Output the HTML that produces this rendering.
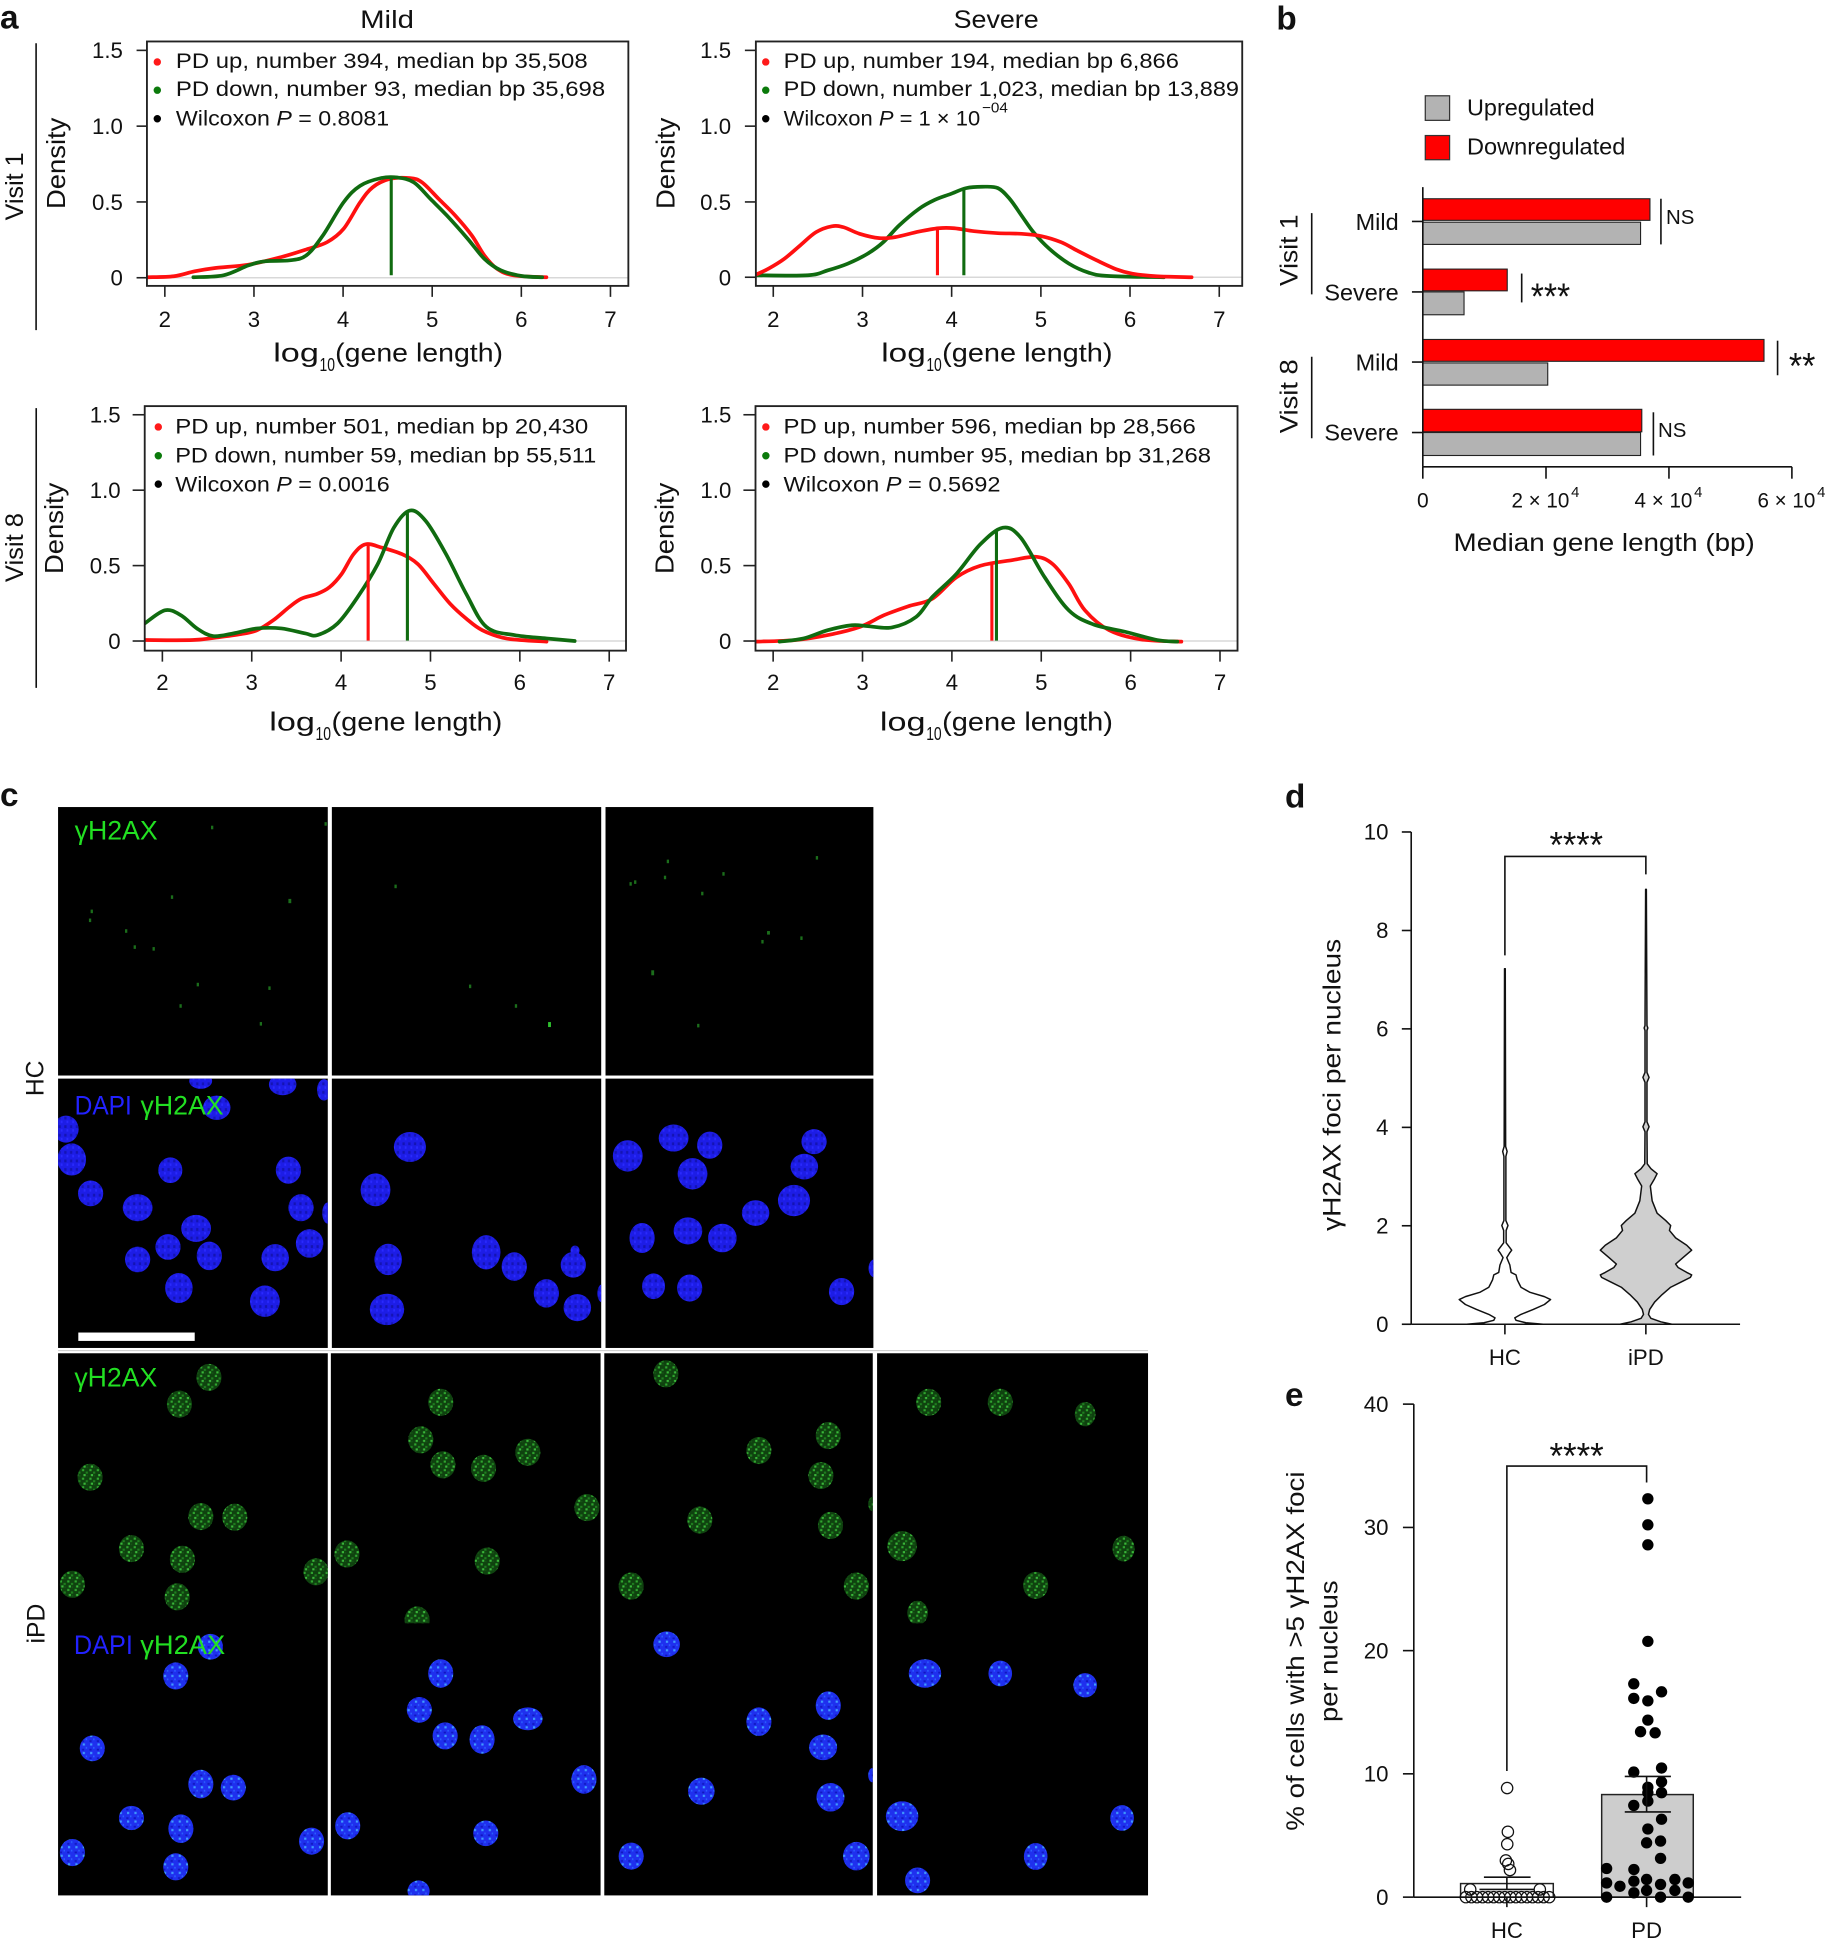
<!DOCTYPE html>
<html><head><meta charset="utf-8">
<style>
html,body{margin:0;padding:0;background:#fff;}
svg{display:block;}
text{font-family:"Liberation Sans",Arial,sans-serif;fill:#111;}
</style></head><body>
<svg xmlns="http://www.w3.org/2000/svg" width="1827" height="1938" viewBox="0 0 1480 1570">
<defs>
 <clipPath id="cTL"><rect x="119" y="33.6" width="390" height="198"/></clipPath>
 <clipPath id="cTR"><rect x="612.3" y="33.6" width="394" height="198"/></clipPath>
 <clipPath id="cBL"><rect x="117.2" y="329" width="389.9" height="198.1"/></clipPath>
 <clipPath id="cBR"><rect x="612" y="329" width="390.5" height="198.1"/></clipPath>
 <clipPath id="h1"><rect x="47" y="873.8" width="218.5" height="218.2"/></clipPath>
 <clipPath id="h2"><rect x="268.8" y="873.8" width="218.2" height="218.2"/></clipPath>
 <clipPath id="h3"><rect x="490.5" y="873.8" width="217" height="218.2"/></clipPath>
 <clipPath id="g1"><rect x="47" y="1096.3" width="218.5" height="218.7"/></clipPath>
 <clipPath id="g2"><rect x="268" y="1096.3" width="218.5" height="218.7"/></clipPath>
 <clipPath id="g3"><rect x="489.5" y="1096.3" width="217.5" height="218.7"/></clipPath>
 <clipPath id="g4"><rect x="710.5" y="1096.3" width="219.5" height="218.7"/></clipPath>
 <clipPath id="b1"><rect x="47" y="1315" width="218.5" height="220.5"/></clipPath>
 <clipPath id="b2"><rect x="268" y="1315" width="218.5" height="220.5"/></clipPath>
 <clipPath id="b3"><rect x="489.5" y="1315" width="217.5" height="220.5"/></clipPath>
 <clipPath id="b4"><rect x="710.5" y="1315" width="219.5" height="220.5"/></clipPath>
 <pattern id="gsp" patternUnits="userSpaceOnUse" width="10" height="24">
  <rect width="10" height="24" fill="#0f420f"/>
  <rect x="1" y="2" width="3" height="6" fill="#2fa52f"/>
  <rect x="6" y="9" width="3" height="6" fill="#1f7f1f"/>
  <rect x="3" y="16" width="3" height="6" fill="#3ab83a"/>
  <rect x="7" y="19" width="2" height="4" fill="#155515"/>
 </pattern>
 <pattern id="bsp" patternUnits="userSpaceOnUse" width="10" height="24">
  <rect width="10" height="24" fill="#1f30ee"/>
  <rect x="2" y="3" width="3" height="6" fill="#3f9cff"/>
  <rect x="6" y="13" width="2" height="5" fill="#2a60ff"/>
  <rect x="1" y="18" width="3" height="5" fill="#1018c0"/>
 </pattern>
 <pattern id="hsp" patternUnits="userSpaceOnUse" width="10" height="24">
  <rect width="10" height="24" fill="#1d1de6"/>
  <rect x="2" y="3" width="4" height="8" fill="#1414b4"/>
  <rect x="6" y="14" width="3" height="7" fill="#2a2aff"/>
 </pattern>
</defs>

<!-- ================= PANEL a ================= -->
<text x="0" y="23" font-size="27" font-weight="bold">a</text>
<text x="291.7" y="22.8" font-size="20" textLength="43.6" lengthAdjust="spacingAndGlyphs">Mild</text>
<text x="772.5" y="22.8" font-size="20" textLength="68.9" lengthAdjust="spacingAndGlyphs">Severe</text>

<text transform="translate(18.4,151) rotate(-90)" font-size="20" text-anchor="middle" textLength="55" lengthAdjust="spacingAndGlyphs">Visit 1</text>
<line x1="29.2" y1="35" x2="29.2" y2="267.4" stroke="#111" stroke-width="1.3"/>
<text transform="translate(18.4,443.6) rotate(-90)" font-size="20" text-anchor="middle" textLength="56" lengthAdjust="spacingAndGlyphs">Visit 8</text>
<line x1="29.3" y1="330.6" x2="29.3" y2="557.3" stroke="#111" stroke-width="1.3"/>

<text transform="translate(52.5,132.3) rotate(-90)" font-size="21" text-anchor="middle" textLength="74" lengthAdjust="spacingAndGlyphs">Density</text>
<text transform="translate(546.3,132.3) rotate(-90)" font-size="21" text-anchor="middle" textLength="74" lengthAdjust="spacingAndGlyphs">Density</text>
<text transform="translate(51,428) rotate(-90)" font-size="21" text-anchor="middle" textLength="74" lengthAdjust="spacingAndGlyphs">Density</text>
<text transform="translate(545.5,428) rotate(-90)" font-size="21" text-anchor="middle" textLength="74" lengthAdjust="spacingAndGlyphs">Density</text>

<!-- TL -->
<line x1="119" y1="225" x2="509" y2="225" stroke="#d8d8d8" stroke-width="1.2"/>
<g stroke="#222" stroke-width="1.3">
 <line x1="110.6" y1="40.8" x2="119" y2="40.8"/><line x1="110.6" y1="102.2" x2="119" y2="102.2"/>
 <line x1="110.6" y1="163.6" x2="119" y2="163.6"/><line x1="110.6" y1="225" x2="119" y2="225"/>
 <line x1="133.5" y1="231.6" x2="133.5" y2="240.5"/><line x1="205.7" y1="231.6" x2="205.7" y2="240.5"/>
 <line x1="277.9" y1="231.6" x2="277.9" y2="240.5"/><line x1="350.1" y1="231.6" x2="350.1" y2="240.5"/>
 <line x1="422.3" y1="231.6" x2="422.3" y2="240.5"/><line x1="494.5" y1="231.6" x2="494.5" y2="240.5"/>
</g>
<g font-size="18" text-anchor="end">
 <text x="99.5" y="47.2">1.5</text><text x="99.5" y="108.6">1.0</text><text x="99.5" y="170">0.5</text><text x="99.5" y="231.4">0</text>
</g>
<g font-size="18" text-anchor="middle">
 <text x="133.5" y="265">2</text><text x="205.7" y="265">3</text><text x="277.9" y="265">4</text>
 <text x="350.1" y="265">5</text><text x="422.3" y="265">6</text><text x="494.5" y="265">7</text>
</g>
<g clip-path="url(#cTL)" fill="none" stroke-linejoin="round" stroke-linecap="round">
 <polyline class="sm" stroke="#ff1010" stroke-width="3" fill="none" points="119.7,224.6 140.8,223.8 157.6,219.8 174.4,217.1 201.2,214.4 228,208.2 248.1,202.1 264.9,196.2 278.3,185.4 291.7,163.9 301.8,151.8 315.2,145.1 332,144.3 342,147.8 355.4,161.2 368.8,174.7 382.2,190.8 392.3,206.9 402.4,217.6 415.8,223 442.6,224.6"/>
 <polyline class="sm" stroke="#106b10" stroke-width="3" fill="none" points="156.6,224.6 181,223 201.2,215 214.6,211.7 234.7,210.9 248.1,206.9 261.5,190.8 278.3,163.9 291.7,150.5 308.5,144.3 321.9,143.8 335.3,147.8 348.7,161.2 362.1,174.7 378.9,193.5 392.3,209.6 405.7,219 422.5,223.6 439.2,224.6"/>
 <line x1="316.9" y1="223" x2="316.9" y2="144" stroke="#106b10" stroke-width="2.5" stroke-linecap="butt"/>
</g>
<rect x="119" y="33.6" width="390" height="198" fill="none" stroke="#222" stroke-width="1.5"/>
<circle cx="127.4" cy="50.2" r="3" fill="#ff1a1a"/><circle cx="127.4" cy="73.1" r="3" fill="#0b7a0b"/><circle cx="127.4" cy="96.2" r="3" fill="#000"/>
<text x="142.5" y="55.1" font-size="17" textLength="333.5" lengthAdjust="spacingAndGlyphs">PD up, number 394, median bp 35,508</text>
<text x="142.5" y="77.9" font-size="17" textLength="347.7" lengthAdjust="spacingAndGlyphs">PD down, number 93, median bp 35,698</text>
<text x="142.5" y="101.6" font-size="17" textLength="172.7" lengthAdjust="spacingAndGlyphs">Wilcoxon <tspan font-style="italic">P</tspan> = 0.8081</text>
<text x="221.3" y="293" font-size="21" textLength="37" lengthAdjust="spacingAndGlyphs">log</text>
<text x="258.8" y="300.5" font-size="15" textLength="12.5" lengthAdjust="spacingAndGlyphs">10</text>
<text x="271.5" y="293" font-size="21" textLength="136" lengthAdjust="spacingAndGlyphs">(gene length)</text>

<!-- TR -->
<line x1="612.3" y1="224.6" x2="1006.3" y2="224.6" stroke="#d8d8d8" stroke-width="1.2"/>
<g stroke="#222" stroke-width="1.3">
 <line x1="603.4" y1="40.8" x2="612.3" y2="40.8"/><line x1="603.4" y1="102.2" x2="612.3" y2="102.2"/>
 <line x1="603.4" y1="163.6" x2="612.3" y2="163.6"/><line x1="603.4" y1="224.6" x2="612.3" y2="224.6"/>
 <line x1="626.4" y1="231.6" x2="626.4" y2="240.5"/><line x1="698.7" y1="231.6" x2="698.7" y2="240.5"/>
 <line x1="770.9" y1="231.6" x2="770.9" y2="240.5"/><line x1="843.2" y1="231.6" x2="843.2" y2="240.5"/>
 <line x1="915.4" y1="231.6" x2="915.4" y2="240.5"/><line x1="987.7" y1="231.6" x2="987.7" y2="240.5"/>
</g>
<g font-size="18" text-anchor="end">
 <text x="592.2" y="47.2">1.5</text><text x="592.2" y="108.6">1.0</text><text x="592.2" y="170">0.5</text><text x="592.2" y="231.4">0</text>
</g>
<g font-size="18" text-anchor="middle">
 <text x="626.4" y="265">2</text><text x="698.7" y="265">3</text><text x="770.9" y="265">4</text>
 <text x="843.2" y="265">5</text><text x="915.4" y="265">6</text><text x="987.7" y="265">7</text>
</g>
<g clip-path="url(#cTR)" fill="none" stroke-linejoin="round" stroke-linecap="round">
 <polyline class="sm" stroke="#106b10" stroke-width="3" fill="none" points="612.3,223 654.6,223 670.6,219 686.7,213.6 702.7,205.6 715.5,196.2 728.3,182.7 744.3,169.3 757.1,162 769.9,157.2 782.7,152.4 795.6,151.3 808.4,152.4 818,161.2 827.6,174.7 837.2,188.1 850,201.5 866,213.6 882,220.9 898.1,223.6 942.9,224.6"/>
 <polyline class="sm" stroke="#ff1010" stroke-width="3" fill="none" points="612.3,222.5 622.6,217.6 635.4,209.6 648.2,198.8 661,188.1 673.8,183.3 683.4,184.1 696.3,189.4 712.3,192.9 725.1,192.1 744.3,187.6 760.3,184.9 773.1,184.9 789.1,187.3 808.4,188.9 827.6,189.4 843.6,191.3 859.6,196.2 872.4,202.9 888.4,210.9 904.5,218.2 917.3,221.7 936.5,223.8 965.3,224.6"/>
 <line x1="759.4" y1="223" x2="759.4" y2="185" stroke="#ff1010" stroke-width="2.5" stroke-linecap="butt"/>
 <line x1="780.8" y1="223" x2="780.8" y2="153" stroke="#106b10" stroke-width="2.5" stroke-linecap="butt"/>
</g>
<rect x="612.3" y="33.6" width="394" height="198" fill="none" stroke="#222" stroke-width="1.5"/>
<circle cx="620.3" cy="50.2" r="3" fill="#ff1a1a"/><circle cx="620.3" cy="73.1" r="3" fill="#0b7a0b"/><circle cx="620.3" cy="96.2" r="3" fill="#000"/>
<text x="634.8" y="55.1" font-size="17" textLength="320.2" lengthAdjust="spacingAndGlyphs">PD up, number 194, median bp 6,866</text>
<text x="634.8" y="77.9" font-size="17" textLength="368.9" lengthAdjust="spacingAndGlyphs">PD down, number 1,023, median bp 13,889</text>
<text x="634.8" y="101.6" font-size="17" textLength="159.2" lengthAdjust="spacingAndGlyphs">Wilcoxon <tspan font-style="italic">P</tspan> = 1 × 10</text>
<text x="795.5" y="91" font-size="12" textLength="21" lengthAdjust="spacingAndGlyphs">−04</text>
<text x="713.9" y="293" font-size="21" textLength="36" lengthAdjust="spacingAndGlyphs">log</text>
<text x="750.4" y="300.5" font-size="15" textLength="12.5" lengthAdjust="spacingAndGlyphs">10</text>
<text x="763.2" y="293" font-size="21" textLength="138" lengthAdjust="spacingAndGlyphs">(gene length)</text>

<!-- BL -->
<line x1="117.2" y1="519.3" x2="507.1" y2="519.3" stroke="#d8d8d8" stroke-width="1.2"/>
<g stroke="#222" stroke-width="1.3">
 <line x1="107.4" y1="336" x2="117.2" y2="336"/><line x1="107.4" y1="397.1" x2="117.2" y2="397.1"/>
 <line x1="107.4" y1="458.2" x2="117.2" y2="458.2"/><line x1="107.4" y1="519.3" x2="117.2" y2="519.3"/>
 <line x1="131.5" y1="527.1" x2="131.5" y2="536"/><line x1="203.9" y1="527.1" x2="203.9" y2="536"/>
 <line x1="276.3" y1="527.1" x2="276.3" y2="536"/><line x1="348.7" y1="527.1" x2="348.7" y2="536"/>
 <line x1="421.1" y1="527.1" x2="421.1" y2="536"/><line x1="493.5" y1="527.1" x2="493.5" y2="536"/>
</g>
<g font-size="18" text-anchor="end">
 <text x="97.7" y="342.4">1.5</text><text x="97.7" y="403.5">1.0</text><text x="97.7" y="464.6">0.5</text><text x="97.7" y="525.7">0</text>
</g>
<g font-size="18" text-anchor="middle">
 <text x="131.5" y="559">2</text><text x="203.9" y="559">3</text><text x="276.3" y="559">4</text>
 <text x="348.7" y="559">5</text><text x="421.1" y="559">6</text><text x="493.5" y="559">7</text>
</g>
<g clip-path="url(#cBL)" fill="none" stroke-linejoin="round" stroke-linecap="round">
 <polyline class="sm" stroke="#ff1010" stroke-width="3" fill="none" points="117.2,518.5 156.2,518.5 175.8,516.4 195.3,513.7 208.3,510.5 221.3,502.5 234.4,491.7 244.1,485 257.1,481 266.9,475.7 276.7,465 286.4,448.9 296.2,440.9 309.2,443.6 325.5,448.9 338.5,457 351.5,473 364.6,489.1 377.6,501.1 390.6,510.5 410.1,517.2 442.7,519.8"/>
 <polyline class="sm" stroke="#106b10" stroke-width="3" fill="none" points="117.2,505.1 133.5,494.4 146.5,498.4 159.5,509.1 172.5,515.3 188.8,513.2 208.3,509.1 227.9,509.1 247.4,513.2 257.1,514.5 273.4,505.1 289.7,483.7 306,456.9 319,427.5 332,413.6 345,422.2 361.3,448.9 377.6,481 393.9,507.8 416.6,514.5 442.7,517.2 465.5,519.3"/>
 <line x1="298.2" y1="519" x2="298.2" y2="441.5" stroke="#ff1010" stroke-width="2.5" stroke-linecap="butt"/>
 <line x1="330" y1="519" x2="330" y2="414" stroke="#106b10" stroke-width="2.5" stroke-linecap="butt"/>
</g>
<rect x="117.2" y="329" width="389.9" height="198.1" fill="none" stroke="#222" stroke-width="1.5"/>
<circle cx="128.2" cy="345.9" r="3" fill="#ff1a1a"/><circle cx="128.2" cy="369.2" r="3" fill="#0b7a0b"/><circle cx="128.2" cy="392.2" r="3" fill="#000"/>
<text x="141.9" y="351.3" font-size="17" textLength="334.6" lengthAdjust="spacingAndGlyphs">PD up, number 501, median bp 20,430</text>
<text x="141.9" y="374.5" font-size="17" textLength="341.1" lengthAdjust="spacingAndGlyphs">PD down, number 59, median bp 55,511</text>
<text x="141.9" y="398.1" font-size="17" textLength="173.8" lengthAdjust="spacingAndGlyphs">Wilcoxon <tspan font-style="italic">P</tspan> = 0.0016</text>
<text x="218.1" y="592" font-size="21" textLength="37" lengthAdjust="spacingAndGlyphs">log</text>
<text x="255.6" y="599.5" font-size="15" textLength="12.5" lengthAdjust="spacingAndGlyphs">10</text>
<text x="268.5" y="592" font-size="21" textLength="138.4" lengthAdjust="spacingAndGlyphs">(gene length)</text>

<!-- BR -->
<line x1="612" y1="519.3" x2="1002.5" y2="519.3" stroke="#d8d8d8" stroke-width="1.2"/>
<g stroke="#222" stroke-width="1.3">
 <line x1="602.2" y1="336" x2="612" y2="336"/><line x1="602.2" y1="397.1" x2="612" y2="397.1"/>
 <line x1="602.2" y1="458.2" x2="612" y2="458.2"/><line x1="602.2" y1="519.3" x2="612" y2="519.3"/>
 <line x1="626.3" y1="527.1" x2="626.3" y2="536"/><line x1="698.7" y1="527.1" x2="698.7" y2="536"/>
 <line x1="771.1" y1="527.1" x2="771.1" y2="536"/><line x1="843.5" y1="527.1" x2="843.5" y2="536"/>
 <line x1="915.9" y1="527.1" x2="915.9" y2="536"/><line x1="988.3" y1="527.1" x2="988.3" y2="536"/>
</g>
<g font-size="18" text-anchor="end">
 <text x="592.4" y="342.4">1.5</text><text x="592.4" y="403.5">1.0</text><text x="592.4" y="464.6">0.5</text><text x="592.4" y="525.7">0</text>
</g>
<g font-size="18" text-anchor="middle">
 <text x="626.3" y="559">2</text><text x="698.7" y="559">3</text><text x="771.1" y="559">4</text>
 <text x="843.5" y="559">5</text><text x="915.9" y="559">6</text><text x="988.3" y="559">7</text>
</g>
<g clip-path="url(#cBR)" fill="none" stroke-linejoin="round" stroke-linecap="round">
 <polyline class="sm" stroke="#ff1010" stroke-width="3" fill="none" points="612,519.8 644.5,518.5 670.5,514.5 696.6,507.8 716.1,498.4 735.6,491.2 755.2,485.1 774.7,467.7 794.2,458.3 820.3,453.7 839.8,451.1 852.8,457 865.8,473 878.9,494.4 898.4,510.5 924.4,518 957,519.8"/>
 <polyline class="sm" stroke="#106b10" stroke-width="3" fill="none" points="631.5,519.8 651,517.2 670.5,510.5 690.1,506.5 703.1,507.3 722.6,508.3 742.1,499.8 755.2,483.7 774.7,465 794.2,440.9 812.4,427.5 826.8,435.5 846.3,467.7 865.8,494.4 885.4,505.7 911.4,511.8 937.4,518.5 953.7,519.8"/>
 <line x1="803.5" y1="519" x2="803.5" y2="456.5" stroke="#ff1010" stroke-width="2.5" stroke-linecap="butt"/>
 <line x1="807.2" y1="519" x2="807.2" y2="429.5" stroke="#106b10" stroke-width="2.5" stroke-linecap="butt"/>
</g>
<rect x="612" y="329" width="390.5" height="198.1" fill="none" stroke="#222" stroke-width="1.5"/>
<circle cx="620.4" cy="345.9" r="3" fill="#ff1a1a"/><circle cx="620.4" cy="369.2" r="3" fill="#0b7a0b"/><circle cx="620.4" cy="392.2" r="3" fill="#000"/>
<text x="634.7" y="351.3" font-size="17" textLength="334" lengthAdjust="spacingAndGlyphs">PD up, number 596, median bp 28,566</text>
<text x="634.7" y="374.5" font-size="17" textLength="346.3" lengthAdjust="spacingAndGlyphs">PD down, number 95, median bp 31,268</text>
<text x="634.7" y="398.1" font-size="17" textLength="175.8" lengthAdjust="spacingAndGlyphs">Wilcoxon <tspan font-style="italic">P</tspan> = 0.5692</text>
<text x="712.8" y="592" font-size="21" textLength="37" lengthAdjust="spacingAndGlyphs">log</text>
<text x="750.3" y="599.5" font-size="15" textLength="12.5" lengthAdjust="spacingAndGlyphs">10</text>
<text x="763.2" y="592" font-size="21" textLength="138.4" lengthAdjust="spacingAndGlyphs">(gene length)</text>

<!-- ================= PANEL b ================= -->
<text x="1034" y="24" font-size="27" font-weight="bold">b</text>
<rect x="1154.6" y="77.6" width="19.7" height="19.9" fill="#b3b3b3" stroke="#333" stroke-width="1"/>
<text x="1188.4" y="93.7" font-size="19" textLength="103.4" lengthAdjust="spacingAndGlyphs">Upregulated</text>
<rect x="1154.6" y="109.8" width="19.7" height="19.6" fill="#ff0000" stroke="#333" stroke-width="1"/>
<text x="1188.4" y="125.3" font-size="19" textLength="128.3" lengthAdjust="spacingAndGlyphs">Downregulated</text>

<g stroke="#222" stroke-width="0.9">
 <rect x="1152.6" y="161" width="184" height="17.5" fill="#ff0000"/>
 <rect x="1152.6" y="180" width="176.4" height="18" fill="#b3b3b3"/>
 <rect x="1152.6" y="218" width="68.4" height="17.6" fill="#ff0000"/>
 <rect x="1152.6" y="236.5" width="33.4" height="18.5" fill="#b3b3b3"/>
 <rect x="1152.6" y="275" width="276.4" height="17.7" fill="#ff0000"/>
 <rect x="1152.6" y="294" width="101.2" height="18" fill="#b3b3b3"/>
 <rect x="1152.6" y="331.6" width="177.4" height="18.2" fill="#ff0000"/>
 <rect x="1152.6" y="350.4" width="176.4" height="18.6" fill="#b3b3b3"/>
</g>
<g stroke="#111" stroke-width="1.3">
 <line x1="1152.6" y1="151.6" x2="1152.6" y2="378.2"/>
 <line x1="1152.6" y1="378.2" x2="1451.6" y2="378.2"/>
 <line x1="1152.6" y1="378.2" x2="1152.6" y2="387.8"/><line x1="1252.4" y1="378.2" x2="1252.4" y2="387.8"/>
 <line x1="1352" y1="378.2" x2="1352" y2="387.8"/><line x1="1451.6" y1="378.2" x2="1451.6" y2="387.8"/>
 <line x1="1143.8" y1="179.4" x2="1152.6" y2="179.4"/><line x1="1143.8" y1="236.5" x2="1152.6" y2="236.5"/>
 <line x1="1143.8" y1="293.3" x2="1152.6" y2="293.3"/><line x1="1143.8" y1="350.4" x2="1152.6" y2="350.4"/>
 <line x1="1345.5" y1="161" x2="1345.5" y2="198"/>
 <line x1="1232.7" y1="221.6" x2="1232.7" y2="245"/>
 <line x1="1440" y1="276" x2="1440" y2="304"/>
 <line x1="1339.4" y1="334" x2="1339.4" y2="369"/>
 <line x1="1062.6" y1="172.7" x2="1062.6" y2="238.5"/>
 <line x1="1062.6" y1="289" x2="1062.6" y2="355"/>
</g>
<g font-size="19" text-anchor="end">
 <text x="1133" y="186.2">Mild</text><text x="1133" y="243.5">Severe</text>
 <text x="1133" y="300">Mild</text><text x="1133" y="357">Severe</text>
</g>
<text transform="translate(1051,202.7) rotate(-90)" font-size="20" text-anchor="middle" textLength="58" lengthAdjust="spacingAndGlyphs">Visit 1</text>
<text transform="translate(1051,321) rotate(-90)" font-size="20" text-anchor="middle" textLength="60" lengthAdjust="spacingAndGlyphs">Visit 8</text>
<text x="1349.6" y="181.5" font-size="16.5" textLength="23" lengthAdjust="spacingAndGlyphs">NS</text>
<text x="1240" y="250.4" font-size="30" textLength="32" lengthAdjust="spacingAndGlyphs">***</text>
<text x="1449.2" y="306.8" font-size="30" textLength="21.4" lengthAdjust="spacingAndGlyphs">**</text>
<text x="1343.1" y="354.2" font-size="16.5" textLength="23" lengthAdjust="spacingAndGlyphs">NS</text>
<text x="1152.6" y="411" font-size="17" text-anchor="middle">0</text>
<text x="1224.4" y="411" font-size="17" textLength="46.9" lengthAdjust="spacingAndGlyphs">2 × 10</text>
<text x="1272.8" y="402.5" font-size="12">4</text>
<text x="1324.1" y="411" font-size="17" textLength="46.9" lengthAdjust="spacingAndGlyphs">4 × 10</text>
<text x="1372.4" y="402.5" font-size="12">4</text>
<text x="1423.7" y="411" font-size="17" textLength="46.9" lengthAdjust="spacingAndGlyphs">6 × 10</text>
<text x="1472" y="402.5" font-size="12">4</text>
<text x="1177.5" y="446.4" font-size="20.5" textLength="244" lengthAdjust="spacingAndGlyphs">Median gene length (bp)</text>

<!-- ================= PANEL c ================= -->
<text x="0" y="653" font-size="27" font-weight="bold">c</text>
<text transform="translate(35.2,873.6) rotate(-90)" font-size="20" text-anchor="middle">HC</text>
<text transform="translate(36,1315.3) rotate(-90)" font-size="20" text-anchor="middle">iPD</text>

<g fill="#000">
 <rect x="47" y="653.8" width="218.5" height="217.5"/>
 <rect x="268.8" y="653.8" width="218.2" height="217.5"/>
 <rect x="490.5" y="653.8" width="217" height="217.5"/>
 <rect x="47" y="873.8" width="218.5" height="218.2"/>
 <rect x="268.8" y="873.8" width="218.2" height="218.2"/>
 <rect x="490.5" y="873.8" width="217" height="218.2"/>
 <rect x="47" y="1096.3" width="218.5" height="439.2"/>
 <rect x="268" y="1096.3" width="218.5" height="439.2"/>
 <rect x="489.5" y="1096.3" width="217.5" height="439.2"/>
 <rect x="710.5" y="1096.3" width="219.5" height="439.2"/>
</g>
<line x1="47" y1="1094.2" x2="930" y2="1094.2" stroke="#c8c8c8" stroke-width="0.8"/>

<!-- HC gamma dots (faint) -->
<g transform="translate(0,640) scale(0.4644,0.2892)" fill="#1b6e1b">
 <rect x="368" y="100" width="4" height="10"/><rect x="158" y="335" width="4" height="10"/><rect x="155" y="360" width="4" height="10"/>
 <rect x="218" y="390" width="4" height="10"/><rect x="233" y="435" width="4" height="10"/><rect x="298" y="295" width="4" height="10"/>
 <rect x="503" y="305" width="5" height="12"/><rect x="468" y="550" width="4" height="10"/><rect x="343" y="540" width="4" height="10"/>
 <rect x="453" y="650" width="4" height="10"/><rect x="313" y="600" width="4" height="10"/><rect x="266" y="440" width="4" height="10"/>
 <rect x="566" y="90" width="4" height="10"/><rect x="818" y="545" width="4" height="10"/><rect x="898" y="600" width="4" height="10"/>
 <rect x="956" y="650" width="5" height="14" fill="#2ec02e"/><rect x="688" y="265" width="4" height="10"/><rect x="1106" y="253" width="4" height="10"/>
 <rect x="1158" y="240" width="4" height="10"/><rect x="1223" y="285" width="4" height="10"/><rect x="1338" y="395" width="5" height="10"/>
 <rect x="1396" y="410" width="4" height="10"/><rect x="1136" y="505" width="5" height="14"/><rect x="1216" y="655" width="4" height="10"/>
 <rect x="1423" y="185" width="4" height="10"/><rect x="1260" y="230" width="4" height="10"/><rect x="1163" y="195" width="4" height="10"/>
 <rect x="1328" y="420" width="4" height="10"/><rect x="1098" y="258" width="4" height="10"/>
</g>

<!-- HC DAPI cells -->
<g clip-path="url(#h1)"><g transform="translate(0,640) scale(0.4644,0.2892)" fill="url(#hsp)">
 <ellipse cx="115" cy="950" rx="22" ry="38"/><ellipse cx="125" cy="1035" rx="25" ry="45"/><ellipse cx="158" cy="1130" rx="22" ry="36"/>
 <ellipse cx="297" cy="1065" rx="21" ry="36"/><ellipse cx="240" cy="1170" rx="26" ry="38"/><ellipse cx="342" cy="1228" rx="26" ry="38"/>
 <ellipse cx="365" cy="1305" rx="22" ry="40"/><ellipse cx="240" cy="1315" rx="22" ry="36"/><ellipse cx="293" cy="1280" rx="22" ry="36"/>
 <ellipse cx="312" cy="1395" rx="24" ry="42"/><ellipse cx="462" cy="1432" rx="26" ry="44"/><ellipse cx="480" cy="1310" rx="24" ry="38"/>
 <ellipse cx="540" cy="1270" rx="24" ry="40"/><ellipse cx="525" cy="1170" rx="22" ry="38"/><ellipse cx="503" cy="1065" rx="22" ry="38"/>
 <ellipse cx="493" cy="825" rx="24" ry="30"/><ellipse cx="378" cy="890" rx="24" ry="34"/><ellipse cx="350" cy="815" rx="20" ry="22"/>
 <ellipse cx="565" cy="840" rx="12" ry="30"/><ellipse cx="572" cy="1185" rx="10" ry="30"/>
</g></g>
<g clip-path="url(#h2)"><g transform="translate(0,640) scale(0.4644,0.2892)" fill="url(#hsp)">
 <ellipse cx="715" cy="1000" rx="28" ry="42"/><ellipse cx="655" cy="1120" rx="26" ry="46"/><ellipse cx="677" cy="1315" rx="24" ry="44"/>
 <ellipse cx="848" cy="1295" rx="25" ry="48"/><ellipse cx="897" cy="1335" rx="22" ry="40"/><ellipse cx="953" cy="1410" rx="22" ry="40"/>
 <ellipse cx="1000" cy="1330" rx="22" ry="36"/><ellipse cx="1007" cy="1450" rx="24" ry="38"/><ellipse cx="675" cy="1455" rx="30" ry="44"/>
 <ellipse cx="1050" cy="1410" rx="8" ry="25"/><ellipse cx="1003" cy="1290" rx="8" ry="14"/>
</g></g>
<g clip-path="url(#h3)"><g transform="translate(0,640) scale(0.4644,0.2892)" fill="url(#hsp)">
 <ellipse cx="1095" cy="1025" rx="26" ry="44"/><ellipse cx="1175" cy="975" rx="26" ry="38"/><ellipse cx="1238" cy="995" rx="22" ry="38"/>
 <ellipse cx="1420" cy="985" rx="22" ry="35"/><ellipse cx="1403" cy="1055" rx="24" ry="36"/><ellipse cx="1208" cy="1075" rx="26" ry="44"/>
 <ellipse cx="1385" cy="1150" rx="28" ry="44"/><ellipse cx="1318" cy="1185" rx="24" ry="36"/><ellipse cx="1120" cy="1255" rx="22" ry="42"/>
 <ellipse cx="1200" cy="1235" rx="25" ry="38"/><ellipse cx="1260" cy="1255" rx="25" ry="40"/><ellipse cx="1140" cy="1390" rx="20" ry="36"/>
 <ellipse cx="1203" cy="1395" rx="22" ry="38"/><ellipse cx="1468" cy="1405" rx="22" ry="38"/><ellipse cx="1525" cy="1340" rx="10" ry="25"/>
</g></g>

<!-- iPD gamma cells -->
<g clip-path="url(#g1)"><g transform="translate(0,1085.5) scale(0.598,0.289)" fill="url(#gsp)">
 <ellipse cx="283" cy="105" rx="17" ry="38"/><ellipse cx="243" cy="180" rx="17" ry="38"/><ellipse cx="122" cy="385" rx="17" ry="38"/>
 <ellipse cx="272" cy="495" rx="17" ry="38"/><ellipse cx="318" cy="497" rx="17" ry="38"/><ellipse cx="178" cy="585" rx="17" ry="38"/>
 <ellipse cx="247" cy="615" rx="17" ry="38"/><ellipse cx="98" cy="685" rx="17" ry="38"/><ellipse cx="240" cy="720" rx="17" ry="38"/>
 <ellipse cx="428" cy="650" rx="17" ry="38"/>
</g></g>
<g clip-path="url(#g2)"><g transform="translate(0,1085.5) scale(0.598,0.289)" fill="url(#gsp)">
 <ellipse cx="597" cy="175" rx="17" ry="38"/><ellipse cx="570" cy="280" rx="17" ry="38"/><ellipse cx="600" cy="350" rx="17" ry="38"/>
 <ellipse cx="655" cy="360" rx="17" ry="38"/><ellipse cx="715" cy="315" rx="17" ry="38"/><ellipse cx="795" cy="470" rx="17" ry="38"/>
 <ellipse cx="470" cy="600" rx="17" ry="38"/><ellipse cx="660" cy="620" rx="17" ry="38"/><ellipse cx="565" cy="785" rx="17" ry="38"/>
</g></g>
<g clip-path="url(#g3)"><g transform="translate(0,1085.5) scale(0.598,0.289)" fill="url(#gsp)">
 <ellipse cx="902" cy="95" rx="17" ry="38"/><ellipse cx="1028" cy="310" rx="17" ry="38"/><ellipse cx="1122" cy="268" rx="17" ry="38"/>
 <ellipse cx="1112" cy="380" rx="17" ry="38"/><ellipse cx="948" cy="505" rx="17" ry="38"/><ellipse cx="1125" cy="520" rx="17" ry="38"/>
 <ellipse cx="855" cy="690" rx="17" ry="38"/><ellipse cx="1160" cy="690" rx="17" ry="38"/><ellipse cx="1182" cy="460" rx="6" ry="20"/>
</g></g>
<g clip-path="url(#g4)"><g transform="translate(0,1085.5) scale(0.598,0.289)" fill="url(#gsp)">
 <ellipse cx="1258" cy="175" rx="17" ry="38"/><ellipse cx="1355" cy="175" rx="17" ry="38"/><ellipse cx="1470" cy="208" rx="14" ry="34"/>
 <ellipse cx="1222" cy="578" rx="20" ry="42"/><ellipse cx="1522" cy="585" rx="15" ry="36"/><ellipse cx="1403" cy="688" rx="17" ry="38"/>
 <ellipse cx="1243" cy="765" rx="14" ry="34"/>
</g></g>

<!-- iPD DAPI cells -->
<g clip-path="url(#b1)"><g transform="translate(0,1085.5) scale(0.598,0.289)" fill="url(#bsp)">
 <ellipse cx="285" cy="860" rx="17" ry="36"/><ellipse cx="238" cy="942" rx="17" ry="38"/><ellipse cx="125" cy="1145" rx="17" ry="36"/>
 <ellipse cx="272" cy="1245" rx="17" ry="40"/><ellipse cx="316" cy="1255" rx="17" ry="36"/><ellipse cx="178" cy="1340" rx="17" ry="34"/>
 <ellipse cx="245" cy="1370" rx="17" ry="40"/><ellipse cx="98" cy="1437" rx="17" ry="38"/><ellipse cx="238" cy="1477" rx="17" ry="38"/>
 <ellipse cx="422" cy="1405" rx="17" ry="38"/>
</g></g>
<g clip-path="url(#b2)"><g transform="translate(0,1085.5) scale(0.598,0.289)" fill="url(#bsp)">
 <ellipse cx="597" cy="935" rx="17" ry="40"/><ellipse cx="568" cy="1037" rx="17" ry="36"/><ellipse cx="603" cy="1110" rx="17" ry="38"/>
 <ellipse cx="653" cy="1120" rx="17" ry="40"/><ellipse cx="715" cy="1062" rx="20" ry="32"/><ellipse cx="791" cy="1232" rx="17" ry="40"/>
 <ellipse cx="471" cy="1362" rx="17" ry="38"/><ellipse cx="658" cy="1383" rx="17" ry="36"/><ellipse cx="567" cy="1545" rx="15" ry="30"/>
</g></g>
<g clip-path="url(#b3)"><g transform="translate(0,1085.5) scale(0.598,0.289)" fill="url(#bsp)">
 <ellipse cx="903" cy="853" rx="18" ry="36"/><ellipse cx="1028" cy="1070" rx="17" ry="40"/><ellipse cx="1122" cy="1025" rx="17" ry="40"/>
 <ellipse cx="1115" cy="1142" rx="19" ry="36"/><ellipse cx="950" cy="1265" rx="18" ry="38"/><ellipse cx="1125" cy="1282" rx="19" ry="40"/>
 <ellipse cx="855" cy="1447" rx="17" ry="38"/><ellipse cx="1160" cy="1447" rx="18" ry="40"/><ellipse cx="1182" cy="1220" rx="6" ry="20"/>
</g></g>
<g clip-path="url(#b4)"><g transform="translate(0,1085.5) scale(0.598,0.289)" fill="url(#bsp)">
 <ellipse cx="1253" cy="935" rx="22" ry="40"/><ellipse cx="1355" cy="935" rx="16" ry="36"/><ellipse cx="1470" cy="968" rx="16" ry="34"/>
 <ellipse cx="1222" cy="1335" rx="22" ry="42"/><ellipse cx="1520" cy="1340" rx="16" ry="36"/><ellipse cx="1403" cy="1448" rx="16" ry="38"/>
 <ellipse cx="1243" cy="1515" rx="17" ry="36"/>
</g></g>

<!-- c labels -->
<text x="60.4" y="680" font-size="22" style="fill:#22e022" textLength="67.3" lengthAdjust="spacingAndGlyphs">γH2AX</text>
<text x="60.4" y="903" font-size="22" style="fill:#2222ff" textLength="46.4" lengthAdjust="spacingAndGlyphs">DAPI</text>
<text x="113.8" y="903" font-size="22" style="fill:#22e022" textLength="67.3" lengthAdjust="spacingAndGlyphs">γH2AX</text>
<text x="60.2" y="1123.3" font-size="22" style="fill:#22e022" textLength="67.2" lengthAdjust="spacingAndGlyphs">γH2AX</text>
<text x="59.8" y="1340" font-size="22" style="fill:#2222ff" textLength="47.8" lengthAdjust="spacingAndGlyphs">DAPI</text>
<text x="113.6" y="1340" font-size="22" style="fill:#22e022" textLength="68.8" lengthAdjust="spacingAndGlyphs">γH2AX</text>
<rect x="63.4" y="1079.5" width="94.3" height="6.8" fill="#fff"/>

<!-- ================= PANEL d ================= -->
<text x="1041" y="654" font-size="27" font-weight="bold">d</text>
<g stroke="#111" stroke-width="1.3">
 <line x1="1143.2" y1="674" x2="1143.2" y2="1072.8"/>
 <line x1="1143.2" y1="1072.8" x2="1409.6" y2="1072.8"/>
 <line x1="1135.6" y1="674" x2="1143.2" y2="674"/><line x1="1135.6" y1="753.8" x2="1143.2" y2="753.8"/>
 <line x1="1135.6" y1="833.5" x2="1143.2" y2="833.5"/><line x1="1135.6" y1="913.3" x2="1143.2" y2="913.3"/>
 <line x1="1135.6" y1="993" x2="1143.2" y2="993"/><line x1="1135.6" y1="1072.8" x2="1143.2" y2="1072.8"/>
 <line x1="1219.1" y1="1072.8" x2="1219.1" y2="1081"/><line x1="1333.3" y1="1072.8" x2="1333.3" y2="1081"/>
 <path d="M1219.1,774 V693.8 H1333.3 V708.3" fill="none"/>
</g>
<g font-size="18" text-anchor="end">
 <text x="1124.8" y="680.3">10</text><text x="1124.8" y="760.1">8</text><text x="1124.8" y="839.8">6</text>
 <text x="1124.8" y="919.6">4</text><text x="1124.8" y="999.3">2</text><text x="1124.8" y="1079.1">0</text>
</g>
<text x="1219.1" y="1105.7" font-size="18" text-anchor="middle">HC</text>
<text x="1333.3" y="1105.7" font-size="18" text-anchor="middle">iPD</text>
<text transform="translate(1086,878.9) rotate(-90)" font-size="20.5" text-anchor="middle" textLength="236.7" lengthAdjust="spacingAndGlyphs">γH2AX foci per nucleus</text>
<text x="1255.2" y="694.5" font-size="30" textLength="43.4" lengthAdjust="spacingAndGlyphs">****</text>
<g transform="translate(-0.3,-2.2)" stroke="#111" stroke-width="1.2" stroke-linejoin="round">
 <polygon fill="#fff" points="1250.4,1075 1236.4,1073.8 1228.4,1071.8 1227.4,1069.8 1232.4,1067 1242.4,1063 1251.4,1059 1256.4,1055 1251.4,1052.6 1239.4,1049 1232.4,1045 1231.4,1043 1229.4,1039 1228.4,1035 1224.4,1033 1223.4,1027 1220.9,1021 1223.4,1017 1224.9,1015 1223.4,1013 1220.4,1009 1220.4,999 1221.9,995 1220.2,991 1220.2,939 1221.2,935 1220,931 1219.7,787 1219.1,787 1218.8,931 1217.6,935 1218.6,939 1218.6,991 1216.9,995 1218.4,999 1218.4,1009 1215.4,1013 1213.9,1015 1215.4,1017 1217.9,1021 1215.4,1027 1214.4,1033 1210.4,1035 1209.4,1039 1207.4,1043 1206.4,1045 1199.4,1049 1187.4,1052.6 1182.4,1055 1187.4,1059 1196.4,1063 1206.4,1067 1211.4,1069.8 1210.4,1071.8 1202.4,1073.8 1188.4,1075"/>
 <polygon fill="#cfcfcf" points="1354.7,1075 1345.7,1073 1337.7,1070.2 1335.7,1067 1336.7,1063 1340.7,1057 1346.7,1051 1353.7,1045 1361.7,1041 1369.7,1037 1370.7,1035 1366.7,1033 1359.7,1029 1357.7,1026.2 1363.7,1021 1370.7,1015 1366.7,1011 1357.7,1005 1352.7,999 1353.7,995 1349.7,991 1342.7,985 1338.7,975 1337.7,967 1337.2,963 1340.7,957 1342.7,953 1337.7,949 1334.7,945 1334.5,919 1336.2,915 1334.5,911 1334.5,879 1336.2,875 1334.5,871 1334.5,837 1335.2,835 1334.5,833 1334,722.7 1333.4,722.7 1332.9,833 1332.2,835 1332.9,837 1332.9,871 1331.2,875 1332.9,879 1332.9,911 1331.2,915 1332.9,919 1332.7,945 1329.7,949 1324.7,953 1326.7,957 1330.2,963 1329.7,967 1328.7,975 1324.7,985 1317.7,991 1313.7,995 1314.7,999 1309.7,1005 1300.7,1011 1296.7,1015 1303.7,1021 1309.7,1026.2 1307.7,1029 1300.7,1033 1296.7,1035 1297.7,1037 1305.7,1041 1313.7,1045 1320.7,1051 1326.7,1057 1330.7,1063 1331.7,1067 1329.7,1070.2 1321.7,1073 1312.7,1075"/>
</g>

<!-- ================= PANEL e ================= -->
<text x="1041" y="1139" font-size="27" font-weight="bold">e</text>
<rect x="1297.5" y="1453.8" width="74.2" height="83.1" fill="#cdcdcd" stroke="#222" stroke-width="1.2"/>
<rect x="1183.2" y="1525.9" width="75.1" height="11" fill="#fff" stroke="#222" stroke-width="1.2"/>
<g stroke="#111" stroke-width="1.3">
 <line x1="1145.3" y1="1137.5" x2="1145.3" y2="1536.9"/>
 <line x1="1145.3" y1="1536.9" x2="1410.5" y2="1536.9"/>
 <line x1="1136.5" y1="1137.5" x2="1145.3" y2="1137.5"/><line x1="1136.5" y1="1237.4" x2="1145.3" y2="1237.4"/>
 <line x1="1136.5" y1="1337.2" x2="1145.3" y2="1337.2"/><line x1="1136.5" y1="1437" x2="1145.3" y2="1437"/>
 <line x1="1136.5" y1="1536.9" x2="1145.3" y2="1536.9"/>
 <line x1="1220.7" y1="1536.9" x2="1220.7" y2="1545"/><line x1="1333.9" y1="1536.9" x2="1333.9" y2="1545"/>
 <path d="M1220.7,1434.7 V1187.7 H1333.9 V1201" fill="none"/>
</g>
<g font-size="18" text-anchor="end">
 <text x="1124.8" y="1143.8">40</text><text x="1124.8" y="1243.7">30</text><text x="1124.8" y="1343.5">20</text>
 <text x="1124.8" y="1443.3">10</text><text x="1124.8" y="1543.2">0</text>
</g>
<text x="1220.7" y="1570" font-size="18" text-anchor="middle">HC</text>
<text x="1333.9" y="1570" font-size="18" text-anchor="middle">PD</text>
<text transform="translate(1056.5,1337.6) rotate(-90)" font-size="20.5" text-anchor="middle" textLength="291" lengthAdjust="spacingAndGlyphs">% of cells with &gt;5 γH2AX foci</text>
<text transform="translate(1083.5,1337.7) rotate(-90)" font-size="20.5" text-anchor="middle" textLength="114.7" lengthAdjust="spacingAndGlyphs">per nucleus</text>
<text x="1255.2" y="1189.7" font-size="30" textLength="44" lengthAdjust="spacingAndGlyphs">****</text>
<g fill="none" stroke="#111" stroke-width="1">
 <circle cx="1220.9" cy="1448.5" r="4.6"/><circle cx="1221.5" cy="1484" r="4.6"/><circle cx="1221" cy="1494" r="4.6"/>
 <circle cx="1219.9" cy="1507.2" r="4.6"/><circle cx="1221.8" cy="1510" r="4.6"/><circle cx="1223.2" cy="1515" r="4.6"/>
 <circle cx="1191" cy="1530.7" r="4.6"/><circle cx="1247.4" cy="1530.7" r="4.6"/>
 <circle cx="1187.5" cy="1536.9" r="4.6"/><circle cx="1192" cy="1536.9" r="4.6"/><circle cx="1196.5" cy="1536.9" r="4.6"/>
 <circle cx="1201" cy="1536.9" r="4.6"/><circle cx="1205.5" cy="1536.9" r="4.6"/><circle cx="1210" cy="1536.9" r="4.6"/>
 <circle cx="1214.5" cy="1536.9" r="4.6"/><circle cx="1219" cy="1536.9" r="4.6"/><circle cx="1223.5" cy="1536.9" r="4.6"/>
 <circle cx="1228" cy="1536.9" r="4.6"/><circle cx="1232.5" cy="1536.9" r="4.6"/><circle cx="1237" cy="1536.9" r="4.6"/>
 <circle cx="1241.5" cy="1536.9" r="4.6"/><circle cx="1246" cy="1536.9" r="4.6"/><circle cx="1250.5" cy="1536.9" r="4.6"/>
 <circle cx="1255" cy="1536.9" r="4.6"/>
</g>
<g fill="#000">
 <circle cx="1334.9" cy="1214.2" r="4.6"/><circle cx="1334.9" cy="1235.3" r="4.6"/><circle cx="1334.9" cy="1251.5" r="4.6"/>
 <circle cx="1334.9" cy="1329.7" r="4.6"/><circle cx="1323.5" cy="1364.1" r="4.6"/><circle cx="1346" cy="1370.6" r="4.6"/>
 <circle cx="1323.5" cy="1375.9" r="4.6"/><circle cx="1334.9" cy="1377.9" r="4.6"/><circle cx="1334.9" cy="1393.5" r="4.6"/>
 <circle cx="1329" cy="1402.9" r="4.6"/><circle cx="1340.8" cy="1403.8" r="4.6"/><circle cx="1323.5" cy="1435.6" r="4.6"/>
 <circle cx="1346" cy="1432.3" r="4.6"/><circle cx="1334.9" cy="1447.9" r="4.6"/><circle cx="1346" cy="1443.5" r="4.6"/>
 <circle cx="1334.9" cy="1452.3" r="4.6"/><circle cx="1346" cy="1452.3" r="4.6"/><circle cx="1323.5" cy="1462.6" r="4.6"/>
 <circle cx="1334.9" cy="1459.1" r="4.6"/><circle cx="1346" cy="1473.8" r="4.6"/><circle cx="1334.9" cy="1481.7" r="4.6"/>
 <circle cx="1333.9" cy="1492.9" r="4.6"/><circle cx="1345.2" cy="1491.5" r="4.6"/><circle cx="1345.2" cy="1505.5" r="4.6"/>
 <circle cx="1301.5" cy="1513.7" r="4.6"/><circle cx="1301.5" cy="1525.4" r="4.6"/><circle cx="1301.5" cy="1536.9" r="4.6"/>
 <circle cx="1312.3" cy="1528.1" r="4.6"/><circle cx="1323.6" cy="1514.5" r="4.6"/><circle cx="1323.6" cy="1524" r="4.6"/>
 <circle cx="1323.6" cy="1533.4" r="4.6"/><circle cx="1333.9" cy="1522.6" r="4.6"/><circle cx="1333.9" cy="1531.5" r="4.6"/>
 <circle cx="1345.2" cy="1526.6" r="4.6"/><circle cx="1345.2" cy="1536.9" r="4.6"/><circle cx="1356.8" cy="1522.6" r="4.6"/>
 <circle cx="1356.8" cy="1531.5" r="4.6"/><circle cx="1367.6" cy="1525.4" r="4.6"/><circle cx="1367.6" cy="1536.9" r="4.6"/>
</g>
<g stroke="#111" stroke-width="1.3">
 <line x1="1220.7" y1="1520.7" x2="1220.7" y2="1530.7"/>
 <line x1="1202.1" y1="1520.7" x2="1239.9" y2="1520.7"/>
 <line x1="1198.5" y1="1530.7" x2="1243" y2="1530.7"/>
 <line x1="1333.9" y1="1439.1" x2="1333.9" y2="1467.9"/>
 <line x1="1316.2" y1="1439.1" x2="1353.6" y2="1439.1"/>
 <line x1="1316.2" y1="1467.9" x2="1353.6" y2="1467.9"/>
</g>
</svg>
<script>
(function(){
 var ns='http://www.w3.org/2000/svg';
 var pls=document.querySelectorAll('polyline.sm');
 for(var k=0;k<pls.length;k++){
  var pl=pls[k];
  var pts=pl.getAttribute('points').trim().split(/\s+/).map(function(p){return p.split(',').map(Number);});
  var d='M'+pts[0][0]+','+pts[0][1];
  for(var i=0;i<pts.length-1;i++){
   var p0=pts[i-1]||pts[i],p1=pts[i],p2=pts[i+1],p3=pts[i+2]||p2;
   var c1x=p1[0]+(p2[0]-p0[0])/6,c1y=p1[1]+(p2[1]-p0[1])/6;
   var c2x=p2[0]-(p3[0]-p1[0])/6,c2y=p2[1]-(p3[1]-p1[1])/6;
   d+=' C'+c1x.toFixed(2)+','+c1y.toFixed(2)+' '+c2x.toFixed(2)+','+c2y.toFixed(2)+' '+p2[0]+','+p2[1];
  }
  var path=document.createElementNS(ns,'path');
  for(var a=0;a<pl.attributes.length;a++){var at=pl.attributes[a];if(at.name!=='points'&&at.name!=='class')path.setAttribute(at.name,at.value);}
  path.setAttribute('d',d);
  pl.parentNode.replaceChild(path,pl);
 }
})();
</script>
</body></html>
